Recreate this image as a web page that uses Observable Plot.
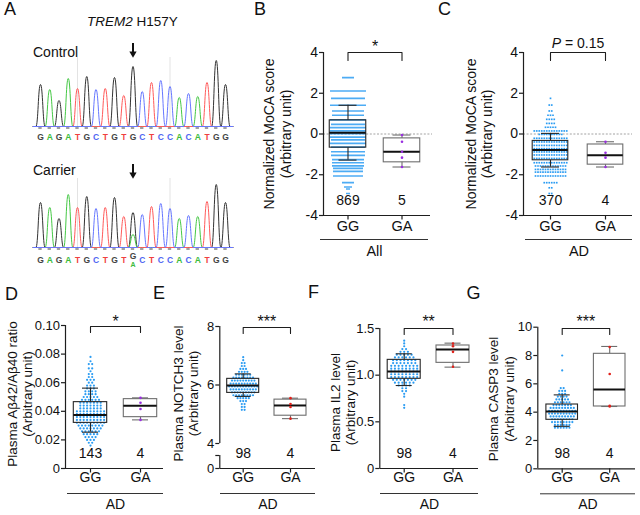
<!DOCTYPE html>
<html><head><meta charset="utf-8">
<script src="https://cdn.jsdelivr.net/npm/d3@7"></script>
<script src="https://cdn.jsdelivr.net/npm/@observablehq/plot@0.6"></script>
<style>
body{margin:0;background:#fff;}
#fig{position:relative;width:640px;height:515px;overflow:hidden;font-family:"Liberation Sans",Arial,Helvetica,sans-serif;color:#111;}
#fig svg{position:absolute;left:0;top:0;pointer-events:none;}
.lbl{position:absolute;line-height:1;white-space:nowrap;}
</style></head><body><div id="fig"></div>
<script>
// ---------- DATA ----------
// Panel A: Sanger chromatogram (peak heights, arbitrary units)
const bases = ["G","A","G","A","T","G","C","T","G","T","G","C","T","C","C","A","C","A","T","G","G"];
const controlPeaks = [42,37,26,48,38,50,37,38,49,31,60,35,44,46,40,29,33,30,44,66,42];
const carrierPeaks = [45,40,29,53,40,51,39,40,50,31,35,33,41,44,39,29,32,31,46,63,45];
const variantIndex = 10;
const carrierMinorBase = "A";
const carrierMinorPeak = 13;

// Panels B-G: genotype groups
const genotypes = ["GG", "GA"];

// B: Normalized MoCA score, All
const bRows = [[2.77,6],[2.11,18],[1.75,17],[1.41,18],[1.13,16],[0.92,16],[0.69,18],[0.47,17],[0.31,18],[0.15,18],[0.02,18],[-0.15,18],[-0.29,17],[-0.46,18],[-0.64,17],[-0.87,17],[-1.05,17],[-1.26,16],[-1.41,16],[-1.56,16],[-1.69,15],[-1.83,15],[-2.06,15],[-2.39,6],[-2.6,4],[-2.7,2],[-2.92,2]];
const bGG = {min:-1.28, q1:-0.67, med:0.06, q3:0.67, max:1.41};
const bGA = {min:-1.62, q1:-1.39, med:-0.87, q3:-0.215, max:-0.05};
const bGAdots = [-0.05,-0.38,-0.87,-1.16,-1.62];
const bN = ["869","5"];

// C: Normalized MoCA score, AD
const cRows = [[1.75,1],[1.42,2],[1.13,2],[0.92,3],[0.72,4],[0.52,4],[0.33,5],[0.15,14],[-0.02,10],[-0.21,14],[-0.39,14],[-0.56,14],[-0.72,14],[-0.88,14],[-1.03,14],[-1.2,14],[-1.41,14],[-1.57,13],[-1.74,13],[-1.87,13],[-2.06,13],[-2.39,6],[-2.64,2],[-2.92,2]];
const cGG = {min:-1.62, q1:-1.29, med:-0.79, q3:-0.34, max:0.03};
const cGA = {min:-1.62, q1:-1.505, med:-1.04, q3:-0.515, max:-0.38};
const cGAdots = [-0.38,-0.92,-1.16,-1.62];
const cN = ["370","4"];

// D: Plasma Abeta42/Abeta40 ratio
const dRows = [[0.078,1],[0.075,1],[0.073,2],[0.070,2],[0.068,1],[0.066,2],[0.064,2],[0.062,3],[0.060,2],[0.058,3],[0.056,3],[0.054,4],[0.052,4],[0.050,5],[0.048,6],[0.046,7],[0.044,7],[0.042,7],[0.040,9],[0.038,9],[0.036,9],[0.034,9],[0.032,9],[0.030,8],[0.028,7],[0.026,6],[0.024,5],[0.022,4],[0.020,3],[0.018,2],[0.016,1]];
const dGG = {min:0.0254, q1:0.0319, med:0.0375, q3:0.0464, max:0.0562};
const dGA = {min:0.034, q1:0.0359, med:0.0438, q3:0.0485, max:0.0494};
const dGAdots = [0.034,0.0416,0.046,0.0494];
const dN = ["143","4"];

// E: Plasma NOTCH3 level
const eRows = [[6.95,1],[6.85,1],[6.75,2],[6.65,2],[6.55,3],[6.45,4],[6.35,6],[6.25,8],[6.15,9],[6.05,10],[5.95,11],[5.85,10],[5.75,9],[5.65,8],[5.55,5],[5.45,3],[5.35,2],[5.25,2],[5.15,2]];
const eGG = {min:5.61, q1:5.73, med:5.98, q3:6.21, max:6.38};
const eGA = {min:4.85, q1:4.95, med:5.3, q3:5.5, max:5.55};
const eGAdots = [4.85,5.25,5.35,5.55];
const eN = ["98","4"];

// F: Plasma IL2 level
const fRows = [[1.37,1],[1.34,1],[1.31,1],[1.28,2],[1.25,3],[1.22,5],[1.19,6],[1.16,7],[1.13,7],[1.10,8],[1.07,8],[1.04,8],[1.01,8],[0.98,8],[0.95,7],[0.92,6],[0.89,4],[0.86,2],[0.83,2],[0.80,1],[0.77,1],[0.68,1],[0.65,1]];
const fGG = {min:0.889, q1:0.961, med:1.039, q3:1.164, max:1.229};
const fGA = {min:1.086, q1:1.132, med:1.275, q3:1.318, max:1.343};
const fGAdots = [1.09,1.25,1.31,1.34];
const fN = ["98","4"];

// G: Plasma CASP3 level
const gRows = [[8.0,1],[6.95,1],[5.7,2],[5.5,3],[5.3,3],[5.1,4],[4.9,5],[4.7,6],[4.5,7],[4.3,9],[4.1,10],[3.9,10],[3.7,9],[3.5,8],[3.3,8],[3.1,6],[2.9,6]];
const gGG = {min:3.0, q1:3.46, med:4.05, q3:4.54, max:5.22};
const gGA = {min:4.4, q1:4.4, med:5.6, q3:8.12, max:8.64};
const gGAdots = [4.4,4.45,6.7,8.6];
const gN = ["98","4"];

// ---------- STYLE ----------
const fig = document.getElementById("fig");
const FONT = "'Liberation Sans', Arial, Helvetica, sans-serif";
const BLUE = "#2b9cf2", PURPLE = "#9a2fe0", RED = "#e0201a", INK = "#1e1e1e";
const traceColor = {G:"#333333", A:"#45c845", T:"#ff5a5a", C:"#6677ff"};
const letterColor = {G:"#444444", A:"#3cbc3c", T:"#f04040", C:"#4f66f2"};
const svgStyle = {background:"transparent", fontFamily: FONT, color: "#111", overflow:"visible"};

function addLabel(html, x, yc, size, extra) {
  const d = document.createElement("div");
  d.className = "lbl";
  d.innerHTML = html;
  d.style.left = x + "px";
  d.style.top = (yc - 0.49 * size) + "px";
  d.style.fontSize = size + "px";
  if (extra) Object.assign(d.style, extra);
  fig.appendChild(d);
}

// ---------- PANEL A ----------
function chromatogram(peaks, basePx, minor, letterY) {
  const order = ["G","A","T","C"];
  const pts = [];
  for (const b of order) {
    const row = [{x:-0.8, y:0, b}];
    const list = [];
    peaks.forEach((h, i) => { if (bases[i] === b) list.push([i, h]); });
    if (minor && minor.base === b) list.push([minor.i, minor.h]);
    list.sort((p, q) => p[0] - q[0]);
    for (const [i, h] of list) { row.push({x:i-0.5, y:0, b}, {x:i, y:h, b}, {x:i+0.5, y:0, b}); }
    row.push({x:20.8, y:0, b});
    pts.push(...row);
  }
  const letters = bases.map((b, i) => ({b, i, y: letterY, size: 8.5}));
  if (minor) {
    letters[minor.i] = {b: bases[minor.i], i: minor.i, y: letterY + 4, size: 8.5};
    letters.push({b: minor.base, i: minor.i, y: letterY - 4.5, size: 7});
  }
  const svg = Plot.plot({
    width: 640, height: 515, margin: 0,
    x: {domain:[0,20], range:[40,225], axis:null},
    y: {domain:[0,100], range:[basePx, basePx-100], axis:null},
    color: {type:"identity"},
    style: svgStyle,
    marks: [
      Plot.ruleX([4, 14], {x: d => d, y1: () => 0, y2: () => 69, stroke: "#dcdcdc", strokeWidth: 0.8}),
      Plot.line(pts, {x:"x", y:"y", z:"b", stroke: d => traceColor[d.b], curve:"bump-x", strokeWidth: 1}),
      Plot.rect(bases, {x1: (d,i) => i-0.18, x2: (d,i) => i+0.18, y1: () => -1, y2: () => -3, fill: "#a0a0a0"}),
      Plot.text(letters.filter(d => d.size > 8), {x:"i", y:"y", text:"b", fill: d => letterColor[d.b], fontSize: 8.5, fontWeight: "bold"}),
      Plot.text(letters.filter(d => d.size <= 8), {x:"i", y:"y", text:"b", fill: d => letterColor[d.b], fontSize: 7, fontWeight: "bold"}),
      // arrow marking the variant position
      Plot.ruleX([variantIndex], {x: d => d, y1: () => 83, y2: () => 74, stroke: "#111", strokeWidth: 2}),
      Plot.dot([variantIndex], {x: d => d, y: () => 73, symbol: "triangle", rotate: 180, r: 2.7, fill: "#111", stroke: "none"})
    ]
  });
  fig.appendChild(svg);
}
chromatogram(controlPeaks, 126, null, -10.7);
chromatogram(carrierPeaks, 247, {i: variantIndex, base: carrierMinorBase, h: carrierMinorPeak}, -12.3);

// ---------- BOX PANELS ----------
function boxPanel(c) {
  const p = c.px;
  const ux = 1 / (p.ga - p.gg);
  const uy = (c.yHi - c.yLo) / (p.yLoPx - p.yTop);
  const xAt = v => 1 + (v - p.gg) * ux;
  const yBot = c.yLo - (p.yBottom - p.yLoPx) * uy;
  const yAtPx = v => c.yHi - (v - p.yTop) * uy;
  const x0 = xAt(p.axis);
  const dots = [];
  c.rows.forEach(([v, k]) => { for (let j = 0; j < k; j++) dots.push({x: 1 + (j - (k - 1) / 2) * c.step * ux, y: v}); });
  const stats = [{cat:1, ...c.gg, s:"#262626"}, {cat:2, ...c.ga, s:"#6e6e6e"}];
  const hw = c.boxHalf * ux, cw = c.capHalf * ux;
  const brY = yAtPx(p.brPx), brD = c.brLen * uy;
  const ticks = c.ticks.map(t => t === "bottom" ? yBot : t === "break" ? c.yLo - 12 * uy : t);
  const segs = (c.segs || [[ "bottom", c.yHi ]]).map(s => s.map(t => t === "bottom" ? yBot : t === "break" ? c.yLo - 12 * uy : t));
  const marks = [];
  if (c.zeroEnd) marks.push(Plot.ruleY([0], {y: d => d, x1: () => x0, x2: () => xAt(c.zeroEnd), stroke:"#8c8c8c", strokeWidth:0.8, strokeDasharray:"2,1.6"}));
  marks.push(
    Plot.dot(dots, {x:"x", y:"y", r:c.r, fill:BLUE, symbol:c.symbol}),
    Plot.ruleX(stats, {x:"cat", y1:"min", y2:"q1", stroke:"s", strokeWidth:1.1}),
    Plot.ruleX(stats, {x:"cat", y1:"q3", y2:"max", stroke:"s", strokeWidth:1.1}),
    Plot.ruleY(stats, {y:"min", x1: d => d.cat - cw, x2: d => d.cat + cw, stroke:"s", strokeWidth:1.1}),
    Plot.ruleY(stats, {y:"max", x1: d => d.cat - cw, x2: d => d.cat + cw, stroke:"s", strokeWidth:1.1}),
    Plot.rect(stats, {x1: d => d.cat - hw, x2: d => d.cat + hw, y1:"q1", y2:"q3", fill:"none", stroke:"s", strokeWidth:1.1}),
    Plot.ruleY(stats, {y:"med", x1: d => d.cat - hw, x2: d => d.cat + hw, stroke:"#111", strokeWidth:2}),
    Plot.dot(c.gaDots, {x: () => 2, y: d => d, r: 1.3, fill: c.gaColor}),
    // y axis
    Plot.ruleX(segs, {x: () => x0, y1: d => d[0], y2: d => d[1], stroke: INK, strokeWidth: 1.2}),
    Plot.ruleY(ticks, {y: d => d, x1: () => x0 - 4 * ux, x2: () => x0, stroke: INK, strokeWidth: 1.2}),
    Plot.text(ticks, {y: d => d, frameAnchor: "left", dx: -5.5, textAnchor: "end", text: (d, i) => c.tickLabels[i], fontSize: c.tickFont, fill: "#111"}),
    // x axis
    Plot.ruleY([yBot], {y: d => d, x1: () => x0, x2: () => xAt(p.right), stroke: INK, strokeWidth: 1.2}),
    Plot.ruleX([1, 2], {x: d => d, y1: () => yBot, y2: () => yBot - 4.5 * uy, stroke: INK, strokeWidth: 1.2}),
    Plot.text(genotypes, {x: (d, i) => i + 1, text: d => d, frameAnchor: "bottom", dy: c.labelDy, fontSize: c.labelFont, fill: "#111"}),
    Plot.text(c.n, {x: (d, i) => i + 1, text: d => d, frameAnchor: "bottom", dy: -11, fontSize: 14, fill: "#111"}),
    Plot.ruleY([yBot], {y: d => d, x1: () => xAt(p.ul0), x2: () => xAt(p.ul1), dy: c.ulDy, stroke: "#333", strokeWidth: 1}),
    Plot.text([c.group], {x: () => xAt((p.ul0 + p.ul1) / 2), text: d => d, frameAnchor: "bottom", dy: c.groupDy, fontSize: c.labelFont, fill: "#111"}),
    // significance bracket
    Plot.line([[1, brY - brD], [1, brY], [2, brY], [2, brY - brD]], {x: d => d[0], y: d => d[1], stroke: INK, strokeWidth: 1.1}),
    // axis titles
    Plot.text([c.title[0]], {frameAnchor: "left", textAnchor: "middle", lineAnchor: "middle", dx: c.titleX[0] - p.axis, dy: c.titleDy || 0, rotate: -90, text: d => d, fontSize: c.titleFont, fill: "#111"}),
    Plot.text([c.title[1]], {frameAnchor: "left", textAnchor: "middle", lineAnchor: "middle", dx: c.titleX[1] - p.axis, dy: c.titleDy || 0, rotate: -90, text: d => d, fontSize: c.titleFont, fill: "#111"})
  );
  if (c.sigP) {
    const mid = (p.gg + p.ga) / 2, total = 52.6, pw = 9.3;
    const xs = mid - total / 2 + pw;
    marks.push(
      Plot.text(["P"], {x: () => xAt(xs), text: d => d, textAnchor: "end", frameAnchor: "top", lineAnchor: "middle", dy: p.sigPx - p.yTop, fontSize: 14, fontStyle: "italic", fill: "#111"}),
      Plot.text(["\u00a0= " + c.sigP], {x: () => xAt(xs), text: d => d, textAnchor: "start", frameAnchor: "top", lineAnchor: "middle", dy: p.sigPx - p.yTop, fontSize: 14, fill: "#111"})
    );
  } else {
    marks.push(Plot.text([c.sig], {x: () => 1.5, text: d => d, frameAnchor: "top", lineAnchor: "middle", dy: p.sigPx + 4.3 - p.yTop, fontSize: 16, fill: "#111"}));
  }
  const svg = Plot.plot({
    width: 640, height: 515,
    marginLeft: p.axis, marginTop: p.yTop, marginBottom: 515 - p.yBottom, marginRight: 640 - p.right,
    x: {domain: [1, 2], range: [p.gg, p.ga], axis: null},
    y: {domain: [c.yLo, c.yHi], range: [p.yLoPx, p.yTop], axis: null},
    color: {type: "identity"},
    style: svgStyle,
    marks
  });
  fig.appendChild(svg);
}

boxPanel({
  px: {axis:323, gg:347.5, ga:401.5, yTop:52, yLoPx:215, yBottom:215, right:430, ul0:320, ul1:428, brPx:52, sigPx:42},
  yLo:-4, yHi:4, ticks:[-4,-2,0,2,4], tickLabels:["-4","-2","0","2","4"], tickFont:14,
  rows:bRows, step:2, r:0.95, symbol:"square", gg:bGG, ga:bGA, gaDots:bGAdots, gaColor:PURPLE,
  n:bN, sig:"*", group:"All", boxHalf:18.25, capHalf:9, brLen:8, zeroEnd:432,
  labelDy:15.5, ulDy:24, groupDy:40, labelFont:14.5,
  title:["Normalized MoCA score","(Arbitrary unit)"], titleX:[269.5,286.5], titleFont:14
});
boxPanel({
  px: {axis:523, gg:550, ga:605, yTop:52, yLoPx:215, yBottom:215, right:632, ul0:525, ul1:632, brPx:52, sigPx:42.7},
  yLo:-4, yHi:4, ticks:[-4,-2,0,2,4], tickLabels:["-4","-2","0","2","4"], tickFont:14,
  rows:cRows, step:2.5, r:0.95, symbol:"square", gg:cGG, ga:cGA, gaDots:cGAdots, gaColor:PURPLE,
  n:cN, sigP:"0.15", group:"AD", boxHalf:17.8, capHalf:9, brLen:8, zeroEnd:632,
  labelDy:15.5, ulDy:24, groupDy:40, labelFont:14.5,
  title:["Normalized MoCA score","(Arbitrary unit)"], titleX:[470.7,486.7], titleFont:14
});
boxPanel({
  px: {axis:65, gg:90, ga:140, yTop:325, yLoPx:468, yBottom:468, right:163, ul0:67, ul1:163, brPx:326, sigPx:316.7},
  yLo:0, yHi:0.1, ticks:[0,0.02,0.04,0.06,0.08,0.1], tickLabels:["0","0.02","0.04","0.06","0.08","0.10"], tickFont:13,
  rows:dRows, step:3.4, r:1.1, symbol:"circle", gg:dGG, ga:dGA, gaDots:dGAdots, gaColor:PURPLE,
  n:dN, sig:"*", group:"AD", boxHalf:16.7, capHalf:8, brLen:6,
  labelDy:13.5, ulDy:25, groupDy:40, labelFont:14,
  title:["Plasma A\u03b242/A\u03b240 ratio","(Arbitrary unit)"], titleX:[12,27.5], titleFont:13.5, titleDy:-3
});
boxPanel({
  px: {axis:219.3, gg:242.7, ga:290, yTop:326, yLoPx:443, yBottom:468, right:315, ul0:220, ul1:315, brPx:327, sigPx:316.7},
  yLo:4, yHi:8, ticks:["bottom","break",4,6,8], tickLabels:["0","","4","6","8"], tickFont:13,
  segs:[["bottom","break"],[4,8]],
  rows:eRows, step:2.8, r:1.1, symbol:"circle", gg:eGG, ga:eGA, gaDots:eGAdots, gaColor:RED,
  n:eN, sig:"***", group:"AD", boxHalf:16, capHalf:8, brLen:6,
  labelDy:13.5, ulDy:25, groupDy:40, labelFont:14,
  title:["Plasma NOTCH3 level","(Arbitrary unit)"], titleX:[178.3,193.3], titleFont:13.5, titleDy:-4
});
boxPanel({
  px: {axis:379.3, gg:403.7, ga:452.5, yTop:328, yLoPx:468, yBottom:468, right:478, ul0:380, ul1:478, brPx:328, sigPx:316.7},
  yLo:0, yHi:1.5, ticks:[0,0.5,1,1.5], tickLabels:["0","0.5","1.0","1.5"], tickFont:13,
  rows:fRows, step:3.7, r:1.1, symbol:"circle", gg:fGG, ga:fGA, gaDots:fGAdots, gaColor:RED,
  n:fN, sig:"**", group:"AD", boxHalf:16.5, capHalf:8, brLen:6,
  labelDy:13.5, ulDy:25, groupDy:40, labelFont:14,
  title:["Plasma IL2 level","(Arbitrary unit)"], titleX:[335,350], titleFont:13.5, titleDy:4
});
boxPanel({
  px: {axis:537.3, gg:561.7, ga:609.2, yTop:326.7, yLoPx:468.3, yBottom:468.3, right:635, ul0:540, ul1:635, brPx:328, sigPx:317.3},
  yLo:0, yHi:10, ticks:[0,2,4,6,8,10], tickLabels:["0","2","4","6","8","10"], tickFont:13,
  rows:gRows, step:2.9, r:1.1, symbol:"circle", gg:gGG, ga:gGA, gaDots:gGAdots, gaColor:RED,
  n:gN, sig:"***", group:"AD", boxHalf:15.8, capHalf:8, brLen:6,
  labelDy:13.5, ulDy:25, groupDy:40, labelFont:14,
  title:["Plasma CASP3 level","(Arbitrary unit)"], titleX:[493.3,509.3], titleFont:13.5, titleDy:1
});

// ---------- HTML LABELS ----------
addLabel("A", 4, 8.5, 18);
addLabel("B", 254, 9.2, 18);
addLabel("C", 438, 9.2, 18);
addLabel("D", 5, 294, 18);
addLabel("E", 153, 293, 18);
addLabel("F", 308, 292, 18);
addLabel("G", 466.5, 292.5, 18);
addLabel("<i>TREM2</i> H157Y", 87, 22, 13.5);
addLabel("Control", 33, 52, 14);
addLabel("Carrier", 33, 170, 14);
</script></body></html>
